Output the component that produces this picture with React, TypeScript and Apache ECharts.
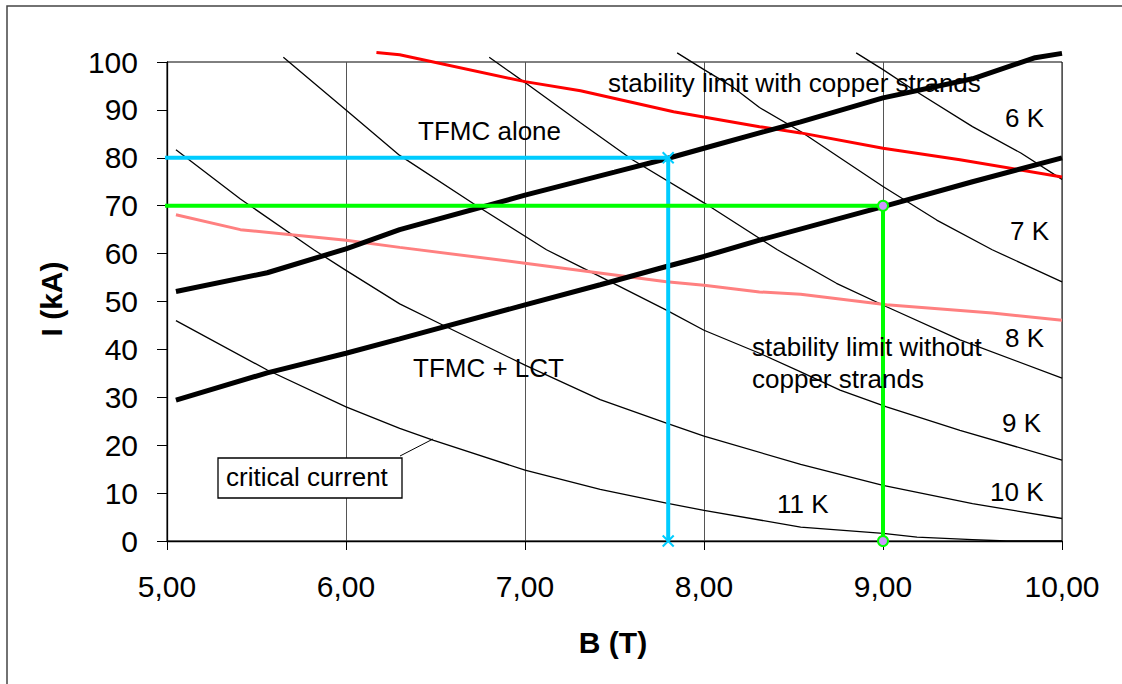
import React, { useEffect, useRef } from "react";
import * as echarts from "echarts";

// Isotherm critical-current curves, [B (T), I (kA)]
const k6 = [[8.85, 101.9], [9.0, 98.4], [9.17, 94.2], [9.5, 86.5], [9.77, 81.0], [10, 75.5]];
const k7 = [[7.85, 101.9], [8.0, 98.4], [8.16, 94.8], [8.31, 90.5], [8.54, 85.5], [8.78, 79.5], [9.0, 74.0], [9.3, 67.0], [9.61, 60.8], [10, 54.1]];
const k8 = [[6.8, 101.0], [7.0, 95.7], [7.31, 87.3], [7.6, 79.6], [8.0, 70.6], [8.41, 60.8], [8.74, 53.8], [9.02, 48.9], [9.43, 42.0], [10, 34.0]];
const k9 = [[5.65, 101.0], [6.0, 90.0], [6.3, 80.5], [6.73, 70.0], [7.12, 60.8], [7.42, 55.2], [7.79, 48.2], [8.0, 44.0], [8.31, 39.2], [8.54, 35.3], [8.76, 31.5], [9.02, 28.0], [9.43, 23.1], [10, 16.9]];
const k10 = [[5.05, 81.7], [5.41, 71.4], [5.82, 60.8], [6.0, 56.5], [6.3, 49.5], [6.54, 45.1], [7.0, 36.7], [7.42, 29.5], [7.79, 24.6], [8.0, 21.9], [8.54, 16.0], [9.0, 11.6], [9.5, 7.8], [10, 4.7]];
const k11 = [[5.05, 46.0], [5.56, 35.7], [6.0, 28.0], [6.3, 23.5], [6.49, 21.0], [7.0, 14.8], [7.42, 10.8], [7.79, 7.9], [8.0, 6.4], [8.54, 2.9], [9.0, 1.6], [9.19, 0.8], [9.5, 0.3], [9.69, 0], [10, 0]];

// Load lines
const tfmcAlone = [[5.05, 52.1], [5.56, 56.0], [6.0, 61.0], [6.3, 65.0], [7.0, 72.2], [7.5, 77.0], [7.79, 79.8], [8.0, 82.0], [8.31, 85.2], [8.54, 87.5], [9.0, 92.5], [9.5, 96.5], [9.85, 100.9], [10, 101.8]];
const tfmcLct = [[5.05, 29.4], [5.56, 35.1], [6.0, 39.2], [6.3, 42.2], [7.0, 49.3], [7.42, 53.5], [7.79, 57.3], [8.0, 59.4], [8.31, 62.8], [9.0, 69.8], [9.5, 75.0], [10, 80.0]];

// Stability limits
const stabWithCu = [[6.17, 102.0], [6.3, 101.5], [7.0, 95.9], [7.31, 94.0], [7.83, 89.6], [8.31, 86.5], [8.54, 85.2], [9.0, 82.0], [9.43, 79.6], [10, 76.0]];
const stabWithoutCu = [[5.05, 68.1], [5.41, 65.0], [6.0, 62.8], [6.3, 61.3], [7.0, 58.0], [7.79, 54.1], [8.0, 53.4], [8.31, 52.0], [8.54, 51.5], [9.02, 49.3], [9.61, 47.6], [10, 46.1]];

// Operating point guides
const cyanGuide = [[4.944, 80], [7.8, 80], [7.8, 0]];
const greenGuide = [[4.944, 70], [9.0, 70], [9.0, 0]];

const yTicks = [0, 10, 20, 30, 40, 50, 60, 70, 80, 90, 100];

const FONT = "'Liberation Sans', Arial, sans-serif";

export default function App() {
  const ref = useRef<HTMLDivElement>(null);
  useEffect(() => {
    if (!ref.current) return;
    const chart = echarts.init(ref.current, null, { renderer: "svg" });
    const thin = (data: number[][]) => ({
      type: "line",
      data,
      symbol: "none",
      clip: false,
      lineStyle: { color: "#000", width: 1.3 },
      z: 2,
    });
    const xSym = "path://M0,0L10,10M10,0L0,10";
    chart.setOption({
      animation: false,
      backgroundColor: "#fff",
      textStyle: { fontFamily: FONT },
      grid: {
        left: 167,
        top: 62,
        width: 895,
        height: 479,
        show: true,
        borderColor: "#000",
        borderWidth: 1,
        backgroundColor: "transparent",
      },
      xAxis: {
        type: "value",
        min: 5,
        max: 10,
        interval: 1,
        axisLine: { lineStyle: { color: "#000", width: 1.3 } },
        axisTick: { show: true, length: 9, lineStyle: { color: "#000" } },
        axisLabel: {
          margin: 30,
          fontSize: 30,
          color: "#000",
          fontFamily: FONT,
          formatter: (v: number) => v.toFixed(2).replace(".", ","),
        },
        splitLine: { show: true, lineStyle: { color: "#555", width: 1 } },
      },
      yAxis: {
        type: "value",
        min: 0,
        max: 100,
        interval: 10,
        axisLine: { show: true, lineStyle: { color: "#000", width: 1.3 } },
        axisTick: { show: true, length: 10, lineStyle: { color: "#000" } },
        axisLabel: {
          margin: 29,
          fontSize: 30,
          color: "#000",
          fontFamily: FONT,
          formatter: (v: number) => (yTicks.includes(v) ? String(v) : ""),
        },
        splitLine: { show: false },
      },
      series: [
        thin(k6),
        thin(k7),
        thin(k8),
        thin(k9),
        thin(k10),
        thin(k11),
        {
          type: "line",
          data: stabWithoutCu,
          symbol: "none",
          clip: false,
          lineStyle: { color: "#FF8080", width: 3 },
          z: 3,
        },
        {
          type: "line",
          data: stabWithCu,
          symbol: "none",
          clip: false,
          lineStyle: { color: "#FF0000", width: 3 },
          z: 3,
        },
        {
          type: "line",
          data: tfmcAlone,
          symbol: "none",
          clip: false,
          lineStyle: { color: "#000", width: 5 },
          z: 4,
        },
        {
          type: "line",
          data: tfmcLct,
          symbol: "none",
          clip: false,
          lineStyle: { color: "#000", width: 5 },
          z: 4,
        },
        {
          type: "line",
          data: cyanGuide.map((p, i) => ({ value: p, symbol: i === 0 ? "none" : xSym })),
          symbolSize: 11,
          showAllSymbol: true,
          clip: false,
          lineStyle: { color: "#00CCFF", width: 4 },
          itemStyle: { color: "#00CCFF", borderColor: "#00CCFF", borderWidth: 2 },
          z: 5,
        },
        {
          type: "line",
          data: greenGuide.map((p, i) => ({ value: p, symbol: i === 0 ? "none" : "circle" })),
          symbolSize: 10,
          showAllSymbol: true,
          clip: false,
          lineStyle: { color: "#00FF00", width: 4 },
          itemStyle: { color: "#CC99FF", borderColor: "#00FF00", borderWidth: 2 },
          z: 5,
        },
      ],
      graphic: [
        {
          type: "polyline",
          shape: { points: [[7, 700], [7, 6], [1140, 6]] },
          style: { fill: "none", stroke: "#444", lineWidth: 1.5 },
          silent: true,
          z: 0,
        },
        {
          type: "text",
          x: 51,
          y: 299,
          rotation: Math.PI / 2,
          style: {
            text: "I (kA)",
            font: `bold 30px ${FONT}`,
            fill: "#000",
            align: "center",
            verticalAlign: "middle",
          },
        },
        {
          type: "text",
          x: 613,
          y: 642,
          style: {
            text: "B (T)",
            font: `bold 30px ${FONT}`,
            fill: "#000",
            align: "center",
            verticalAlign: "middle",
          },
        },
        ...[
          ["stability limit with copper strands", 608, 83],
          ["TFMC alone", 418, 131],
          ["6 K", 1005, 118],
          ["7 K", 1010, 231],
          ["8 K", 1005, 338],
          ["stability limit without", 752, 347],
          ["copper strands", 752, 379],
          ["9 K", 1002, 423],
          ["TFMC + LCT", 413, 368],
          ["10 K", 990, 492],
          ["11 K", 777, 504],
        ].map(([t, x, y]) => ({
          type: "text",
          x: x as number,
          y: y as number,
          z: 10,
          style: {
            text: t as string,
            font: `26px ${FONT}`,
            fill: "#000",
            align: "left",
            verticalAlign: "middle",
          },
        })),
        {
          type: "rect",
          shape: { x: 218, y: 458, width: 184, height: 40 },
          style: { fill: "#fff", stroke: "#000", lineWidth: 1.3 },
          z: 10,
        },
        {
          type: "text",
          x: 226,
          y: 477,
          z: 11,
          style: {
            text: "critical current",
            font: `26px ${FONT}`,
            fill: "#000",
            align: "left",
            verticalAlign: "middle",
          },
        },
        {
          type: "line",
          shape: { x1: 400, y1: 456, x2: 433, y2: 439 },
          style: { stroke: "#000", lineWidth: 1 },
          z: 10,
        },
      ],
    });
    return () => chart.dispose();
  }, []);
  return (
    <div
      ref={ref}
      style={{ position: "fixed", left: 0, top: 0, width: 1122, height: 684 }}
    />
  );
}
